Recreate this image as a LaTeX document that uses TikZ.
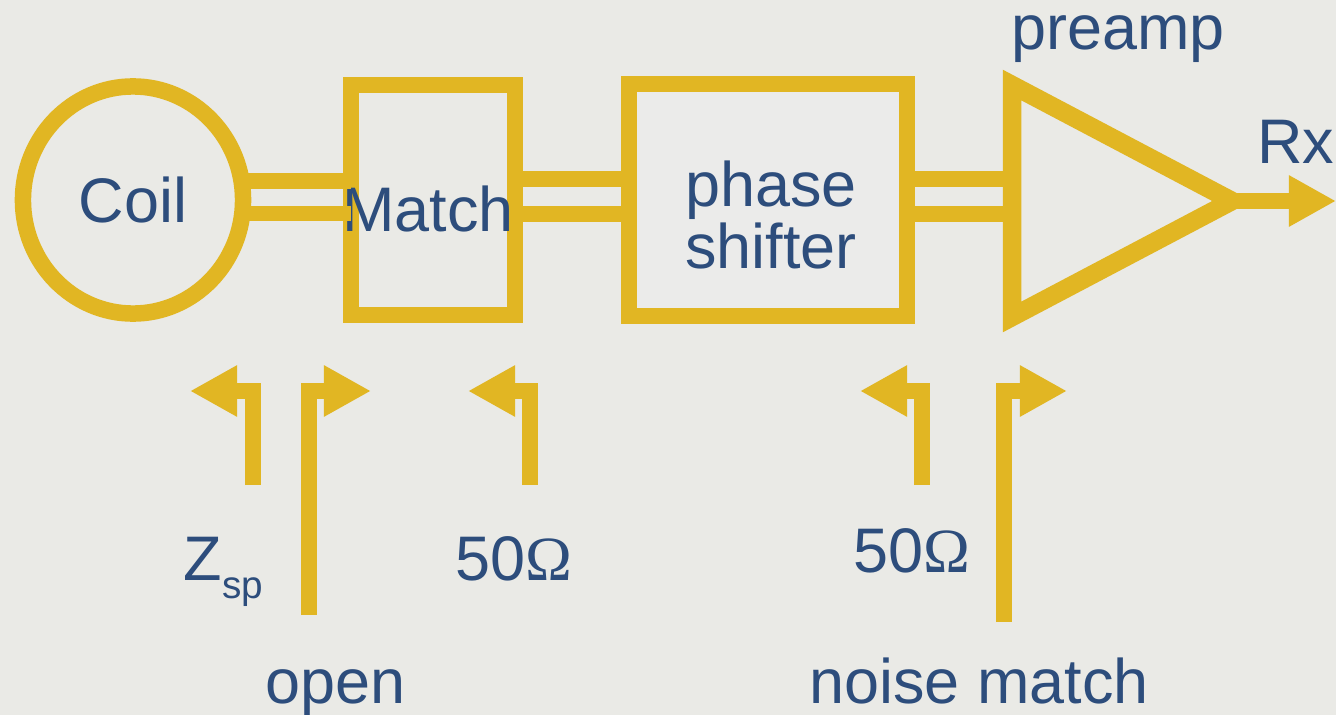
\documentclass[tikz,border=0pt]{standalone}
\usepackage{fontspec}
\setmainfont{Liberation Sans}
\newfontfamily\omegafont{Liberation Serif}
\usepackage{tikz}
\usetikzlibrary{arrows.meta,calc,shapes.geometric}
\usepackage{xcolor}
\definecolor{RFGold}{HTML}{E1B623}
\definecolor{RFBlue}{HTML}{2D4D7C}
\definecolor{RFBack}{HTML}{EAEAE6}
\definecolor{RFInner}{HTML}{EBEBEA}

\begin{document}
\begin{tikzpicture}[x=0.01cm, y=-0.01cm,
        part/.style={draw=RFGold, line width=0.16cm, outer sep=0pt, inner sep=0pt},
        wire/.style={draw=RFGold, line width=0.155cm},
        port/.style={draw=RFGold, line width=0.155cm, -{Triangle[length=0.47cm, width=0.48cm]}},
        lab/.style={text=RFBlue, font=\fontsize{17.9}{17.9}\selectfont, inner sep=0pt},
      ]
      \useasboundingbox[fill=RFBack] (0,0) rectangle (1336,715);
      \coordinate (hi) at (0,179);
      \coordinate (lo) at (0,214);

      \node[part, ellipse, line width=0.165cm, minimum width=2.2cm, minimum height=2.27cm, lab] (coil) at (133,200) {Coil};
      \node[part, minimum width=1.64cm, minimum height=2.3cm,
            label={[lab, yshift=-0.09cm, xshift=-0.05cm]center:Match}] (match) at (433,200) {};
      \node[part, fill=RFInner, minimum width=2.78cm, minimum height=2.32cm,
            label={[lab, align=center, yshift=-0.15cm, xshift=0.03cm]center:phase\\shifter}] (phase) at (768,200) {};
      \coordinate (pre-top) at (1012,85);
      \coordinate (pre-bot) at (1012,317);
      \coordinate (pre-tip) at (1232,201);
      \draw[part, line width=0.185cm, line join=miter] (pre-top) -- (pre-bot) -- (pre-tip) -- cycle;
      \node[lab, anchor=base] (pre-lab) at (1118,50) {preamp};

      \draw[wire] (coil.10) -- (coil.10 -| match.west);
      \draw[wire] (coil.-7) -- (coil.-7 -| match.west);
      \draw[wire] (match.east |- hi) -- (phase.west |- hi);
      \draw[wire] (match.east |- lo) -- (phase.west |- lo);
      \draw[wire] (phase.east |- hi) -- (pre-top |- hi);
      \draw[wire] (phase.east |- lo) -- (pre-top |- lo);

      \coordinate (rx-end) at (1336,201);
      \draw[port] (pre-tip) -- (rx-end);
      \node[lab, anchor=base] (rx-lab) at (1296,163) {Rx};

      \coordinate (zsp-foot) at (253,485);
      \coordinate (zsp-tip) at (190,391);
      \coordinate (open-foot) at (309,615);
      \coordinate (open-tip) at (371,391);
      \coordinate (fifty-foot) at (530,485);
      \coordinate (fifty-tip) at (468,391);
      \coordinate (out-foot) at (922,485);
      \coordinate (out-tip) at (860,391);
      \coordinate (nm-foot) at (1004,622);
      \coordinate (nm-tip) at (1067,391);
      \foreach \p in {zsp,open,fifty,out,nm}
        \draw[port] (\p-foot) |- (\p-tip);

      \node[lab, anchor=base west] (zsp-lab) at (183,580) {Z\raisebox{-0.18cm}{\fontsize{11}{11}\selectfont sp}};
      \node[lab, anchor=base] (fifty-lab) at (514,580) {50{\omegafont Ω}};
      \node[lab, anchor=base] (out-lab) at (912,572) {50{\omegafont Ω}};
      \node[lab, anchor=base] (open-lab) at (336,703) {open};
      \node[lab, anchor=base] (nm-lab) at (979,703) {noise match};
    \end{tikzpicture}
\end{document}
